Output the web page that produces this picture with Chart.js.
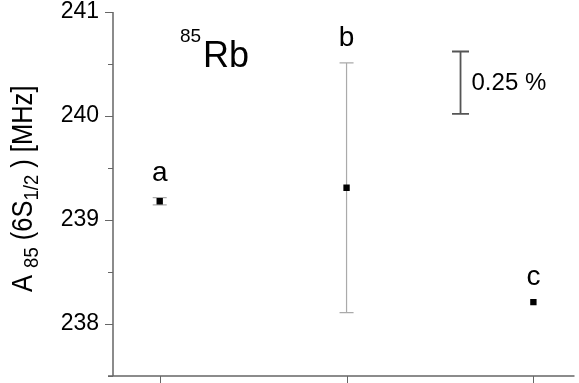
<!DOCTYPE html>
<html>
<head>
<meta charset="utf-8">
<script src="https://cdn.jsdelivr.net/npm/chart.js@4.4.1/dist/chart.umd.min.js"></script>
<style>
  html, body { margin: 0; padding: 0; background: #fff; }
  #wrap { width: 579px; height: 383px; }
</style>
</head>
<body>
<div id="wrap"><canvas id="rbChart"></canvas></div>
<script>
// valeurs
const categories = ['a', 'b', 'c'];
const xPositions = [1, 2, 3];
const values = [239.18, 239.31, 238.21];
const errors = [0.035, 1.2, 0];
const yTickValues = [238, 239, 240, 241];
const scaleBarX = [2.61];
const scaleBarRange = [240.02, 240.62];
const scaleBarLabel = '0.25 %';

const FONT = '"Liberation Sans", Arial, sans-serif';
const AXIS_COLOR = '#666';

// axes, ticks, barres d'erreur et textes dessinés à la main
const decorPlugin = {
    id: 'decor',
    beforeDatasetsDraw(chart) {
        const { ctx, chartArea, scales: { x, y } } = chart;
        ctx.save();
        // lignes d'axe
        ctx.strokeStyle = AXIS_COLOR;
        ctx.lineWidth = 1.5;
        ctx.beginPath();
        ctx.moveTo(chartArea.left, chartArea.top);
        ctx.lineTo(chartArea.left, chartArea.bottom);
        ctx.moveTo(chartArea.left - 5, chartArea.bottom);
        ctx.lineTo(chartArea.right, chartArea.bottom);
        ctx.stroke();
        // ticks y (majeurs + mineurs)
        ctx.lineWidth = 1;
        ctx.beginPath();
        for (let v = 237.5; v <= 241.001; v += 0.5) {
            const py = Math.round(y.getPixelForValue(v)) + 0.5;
            const major = yTickValues.includes(Math.round(v * 10) / 10);
            ctx.moveTo(chartArea.left, py);
            ctx.lineTo(chartArea.left - (major ? 8 : 5), py);
        }
        // ticks x
        xPositions.forEach(v => {
            const px = Math.round(x.getPixelForValue(v)) + 0.5;
            ctx.moveTo(px, chartArea.bottom);
            ctx.lineTo(px, chartArea.bottom + 8);
        });
        ctx.stroke();

        // barres d'erreur
        ctx.strokeStyle = '#aaa';
        ctx.lineWidth = 1.2;
        values.forEach((v, i) => {
            if (!errors[i]) return;
            const px = x.getPixelForValue(xPositions[i]);
            const top = y.getPixelForValue(v + errors[i]);
            const bot = y.getPixelForValue(v - errors[i]);
            ctx.beginPath();
            ctx.moveTo(px, top); ctx.lineTo(px, bot);
            ctx.moveTo(px - 7, top); ctx.lineTo(px + 7, top);
            ctx.moveTo(px - 7, bot); ctx.lineTo(px + 7, bot);
            ctx.stroke();
        });

        // barre d'échelle
        const sx = x.getPixelForValue(scaleBarX[0]);
        const st = y.getPixelForValue(scaleBarRange[1]);
        const sb = y.getPixelForValue(scaleBarRange[0]);
        ctx.strokeStyle = '#555';
        ctx.lineWidth = 1.8;
        ctx.beginPath();
        ctx.moveTo(sx, st); ctx.lineTo(sx, sb);
        ctx.moveTo(sx - 8.5, st); ctx.lineTo(sx + 8.5, st);
        ctx.moveTo(sx - 8.5, sb); ctx.lineTo(sx + 8.5, sb);
        ctx.stroke();
        ctx.fillStyle = '#000';
        ctx.font = '24px ' + FONT;
        ctx.textAlign = 'left';
        ctx.textBaseline = 'middle';
        ctx.fillText(scaleBarLabel, sx + 11, (st + sb) / 2 + 1);

        // étiquettes a, b, c
        ctx.font = '28px ' + FONT;
        ctx.textAlign = 'center';
        ctx.textBaseline = 'alphabetic';
        categories.forEach((c, i) => {
            const px = x.getPixelForValue(xPositions[i]);
            const py = y.getPixelForValue(values[i] + errors[i]);
            ctx.fillText(c, px, py - 17);
        });

        // 85Rb
        ctx.textAlign = 'left';
        ctx.font = '19px ' + FONT;
        ctx.fillText('85', 180, 42);
        ctx.font = '36px ' + FONT;
        ctx.fillText('Rb', 203, 67);

        // titre de l'axe y (police un peu condensée)
        ctx.translate(32, 292);
        ctx.rotate(-Math.PI / 2);
        ctx.scale(0.88, 1);
        const parts = [
            ['A ', 29, 0], ['85', 21, 6], [' (6S', 29, 0], ['1/2', 21, 6],
            [' ) [MHz]', 29, 0]
        ];
        let cx = 0;
        parts.forEach(([t, size, dy]) => {
            ctx.font = size + 'px ' + FONT;
            ctx.fillText(t, cx, dy);
            cx += ctx.measureText(t).width;
        });
        ctx.restore();
    }
};

new Chart(document.getElementById('rbChart'), {
    type: 'scatter',
    data: {
        datasets: [{
            label: 'A85',
            data: xPositions.map((xv, i) => ({ x: xv, y: values[i] })),
            pointStyle: 'rect',
            pointRadius: 4.5,
            pointHoverRadius: 4.5,
            backgroundColor: '#000',
            borderColor: '#000',
            borderWidth: 0
        }]
    },
    options: {
        responsive: true,
        maintainAspectRatio: false,
        animation: false,
        layout: { padding: { top: 12, right: 0, left: 0, bottom: 0 } },
        plugins: { legend: { display: false }, tooltip: { enabled: false } },
        scales: {
            x: {
                type: 'linear',
                min: 0.75,
                max: 3.22,
                grid: { display: false, drawTicks: false },
                border: { display: false },
                ticks: { display: false },
                afterFit(scale) {
                    scale.height = 7;
                    scale.paddingLeft = 0; scale.paddingRight = 0;
                }
            },
            y: {
                min: 237.5,
                max: 241,
                grid: { display: false, drawTicks: false },
                border: { display: false },
                afterBuildTicks(scale) { scale.ticks = yTickValues.map(v => ({ value: v })); },
                ticks: {
                    padding: 14,
                    color: '#000',
                    font: { family: FONT, size: 23 },
                    callback: v => String(v)
                },
                afterFit(scale) {
                    scale.width = 113;
                    scale.paddingTop = 0; scale.paddingBottom = 0;
                }
            }
        }
    },
    plugins: [decorPlugin]
});
</script>
</body>
</html>
